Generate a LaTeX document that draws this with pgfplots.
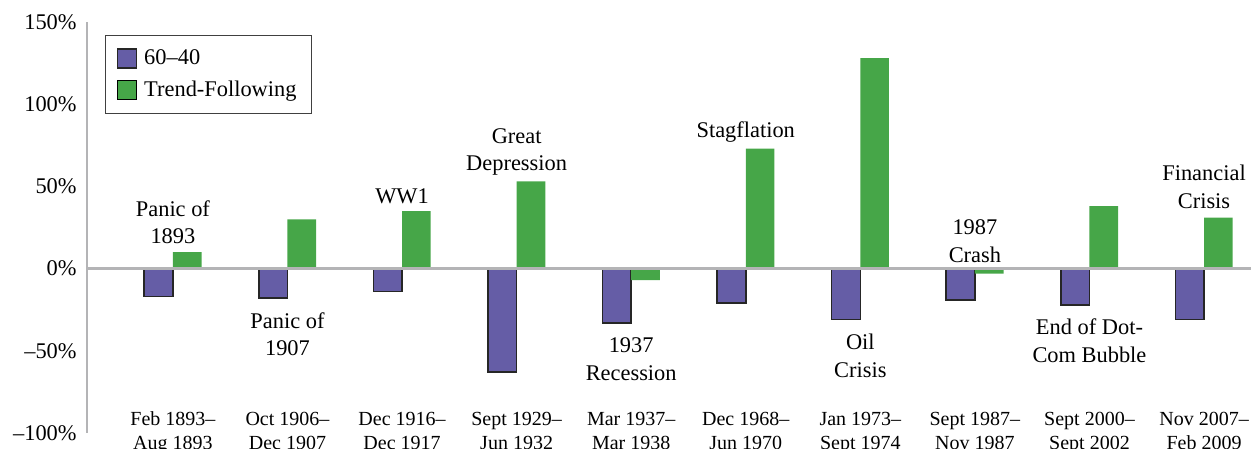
\documentclass[border=0pt]{standalone}
\usepackage{fontspec}
\setmainfont{Liberation Serif}
\usepackage{pgfplots}
\usepackage{pgfplotstable}
\pgfplotsset{compat=1.18}
\usetikzlibrary{calc}

\definecolor{sixtyforty}{RGB}{101,93,166}
\definecolor{trend}{RGB}{70,166,72}
\definecolor{axisgray}{RGB}{180,180,182}

% drawdown episodes: 60-40 portfolio vs trend-following (percent)
\pgfplotstableread{
idx sixty trend
0 -17 10
1 -18 30
2 -14 35
3 -63 53
4 -33 -7
5 -21 73
6 -31 128
7 -19 -3
8 -22 38
9 -31 31
}\crisis

\begin{document}
\begin{tikzpicture}[font=\rmfamily\fontsize{11.2}{13.8}\selectfont,
    period/.style={anchor=base, inner sep=0pt, font=\rmfamily\fontsize{10}{12}\selectfont}]
\begin{axis}[
    name=ax,
    scale only axis,
    width=582pt, height=205.5pt,
    xmin=-0.75, xmax=9.41,
    ymin=-100, ymax=150,
    clip=false,
    axis x line*=middle, axis y line*=left,
    axis line style={draw=axisgray, line width=1.1pt},
    hide obscured x ticks=false, hide obscured y ticks=false,
    xtick=\empty,
    ytick={-100,-50,0,50,100,150},
    yticklabels={--100\%,--50\%,0\%,50\%,100\%,150\%},
    major tick length=0pt,
    yticklabel style={inner sep=0pt, anchor=east, xshift=-5pt},
    axis on top,
    legend style={at={(rel axis cs:0.0155,0.968)}, anchor=north west,
        draw=black!75, line width=0.6pt, inner xsep=5.5pt, inner ysep=5pt,
        cells={anchor=west}, row sep=2.5pt, column sep=1.5pt,
        font=\rmfamily\fontsize{11.2}{13.8}\selectfont},
    legend image code/.code={\draw[#1] (0pt,-4.75pt) rectangle (9.5pt,4.75pt);},
]
\addplot[ybar, bar width=0.25, bar shift=-0.125, fill=sixtyforty,
    draw=black!85, line width=0.8pt] table[x=idx, y=sixty] {\crisis};
\addplot[ybar, bar width=0.25, bar shift=0.125, fill=trend, draw=none]
    table[x=idx, y=trend] {\crisis};
\legend{60--40, Trend-Following}

% event annotations
\node[align=center] at (axis cs:0,28.3) {Panic of\\1893};
\node[align=center] at (axis cs:1,-39.8) {Panic of\\1907};
\node[align=center] at (axis cs:2,44) {WW1};
\node[align=center] at (axis cs:3,71) {Great\\Depression};
\node[align=center] at (axis cs:4,-55) {1937\\Recession};
\node[align=center] at (axis cs:5,83) {Stagflation};
\node[align=center] at (axis cs:6,-53) {Oil\\Crisis};
\node[align=center] at (axis cs:7,16.7) {1987\\Crash};
\node[align=center] at (axis cs:8,-44) {End of Dot-\\Com Bubble};
\node[align=center] at (axis cs:9,49.8) {Financial\\Crisis};

% period labels, two lines each (second line runs off the bottom edge)
\node[period] at (axis cs:0,-95.5) {Feb 1893--};
\node[period] at (axis cs:0,-110.1) {Aug 1893};
\node[period] at (axis cs:1,-95.5) {Oct 1906--};
\node[period] at (axis cs:1,-110.1) {Dec 1907};
\node[period] at (axis cs:2,-95.5) {Dec 1916--};
\node[period] at (axis cs:2,-110.1) {Dec 1917};
\node[period] at (axis cs:3,-95.5) {Sept 1929--};
\node[period] at (axis cs:3,-110.1) {Jun 1932};
\node[period] at (axis cs:4,-95.5) {Mar 1937--};
\node[period] at (axis cs:4,-110.1) {Mar 1938};
\node[period] at (axis cs:5,-95.5) {Dec 1968--};
\node[period] at (axis cs:5,-110.1) {Jun 1970};
\node[period] at (axis cs:6,-95.5) {Jan 1973--};
\node[period] at (axis cs:6,-110.1) {Sept 1974};
\node[period] at (axis cs:7,-95.5) {Sept 1987--};
\node[period] at (axis cs:7,-110.1) {Nov 1987};
\node[period] at (axis cs:8,-95.5) {Sept 2000--};
\node[period] at (axis cs:8,-110.1) {Sept 2002};
\node[period] at (axis cs:9,-95.5) {Nov 2007--};
\node[period] at (axis cs:9,-110.1) {Feb 2009};
\end{axis}
\pgfresetboundingbox
\path[use as bounding box] ($(ax.south west)+(-43.5pt,-8pt)$)
    rectangle ($(ax.north east)+(0pt,11pt)$);
\end{tikzpicture}
\end{document}
